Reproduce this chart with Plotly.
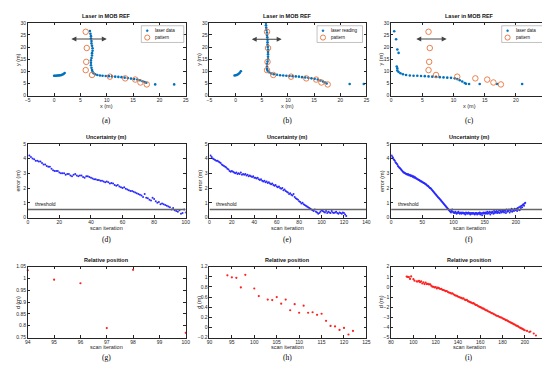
import plotly.graph_objects as go

# ---------------- data ----------------
pattern_x = [6.0, 6.2, 6.1, 6.0, 7.2, 10.6, 13.5, 15.4, 16.4, 17.6]
pattern_y = [26.3, 19.6, 13.9, 10.5, 8.5, 7.8, 7.1, 6.6, 5.4, 4.6]

a_x = [0.0, 0.2, 0.4, 0.6, 0.8, 1.0, 1.2, 1.4, 1.6, 1.8, 2.0,
       6.8, 6.9, 7.0, 7.0, 7.1, 7.1, 7.2, 7.3, 7.3, 7.2, 7.2, 7.1, 7.0, 7.0, 7.0, 7.1, 7.2,
       7.3, 7.5, 7.8, 8.2, 8.7, 9.2, 9.8, 10.4, 11.0, 11.6, 12.2, 12.8, 13.4, 14.0, 14.6,
       15.2, 15.8, 16.3, 16.8, 17.2, 17.5, 19.2, 22.8]
a_y = [8.2, 8.2, 8.2, 8.25, 8.3, 8.35, 8.4, 8.5, 8.7, 8.9, 9.3,
       26.6, 25.5, 24.5, 23.5, 22.5, 21.5, 20.5, 19.5, 18.5, 17.5, 16.5, 15.5, 14.5, 13.5, 12.5, 11.5, 10.5,
       9.8, 9.2, 8.8, 8.5, 8.3, 8.2, 8.1, 8.0, 7.9, 7.8, 7.7, 7.6, 7.4, 7.2, 7.0,
       6.8, 6.6, 6.3, 5.9, 5.6, 5.3, 4.6, 4.6]

b_x = [-0.2, 0.0, 0.2, 0.4, 0.6, 0.8, 1.0,
       5.8, 5.8, 5.85, 5.9, 6.0, 6.0, 6.05, 6.1, 6.1, 6.1, 6.15, 6.2, 6.2, 6.2, 6.2, 6.2, 6.1, 6.0, 6.0, 6.0,
       6.1, 6.4, 6.8, 7.3, 7.9, 8.5, 9.1, 9.7, 10.3, 10.9, 11.5, 12.1, 12.7, 13.3, 13.9, 14.5, 15.1,
       15.7, 16.2, 16.7, 17.1, 17.4, 21.8, 24.5]
b_y = [8.3, 8.4, 8.5, 8.7, 9.0, 9.4, 10.0,
       30.0, 29.0, 28.0, 27.0, 26.0, 25.0, 24.0, 23.0, 22.0, 21.0, 20.0, 19.0, 18.0, 17.0, 16.0, 15.0, 14.0, 13.0, 12.0, 11.0,
       10.3, 9.6, 9.1, 8.8, 8.6, 8.4, 8.3, 8.2, 8.1, 8.0, 7.9, 7.8, 7.6, 7.5, 7.3, 7.1, 6.9,
       6.6, 6.2, 5.8, 5.4, 5.0, 4.8, 4.8]

c_x = [0.5, 0.8, 1.0, 1.2, 0.9, 1.0,
       1.0, 1.2, 1.5, 1.9, 2.4, 3.0, 3.6, 4.2, 4.8, 5.4, 6.0, 6.6, 7.2, 7.8, 8.4, 9.0, 9.6,
       10.2, 10.6, 11.0, 11.4, 11.8, 12.0, 12.5, 14.2, 17.0, 21.0]
c_y = [26.5, 23.2, 19.0, 17.6, 12.0, 11.2,
       10.3, 9.7, 9.2, 8.8, 8.5, 8.3, 8.2, 8.15, 8.1, 8.0, 7.9, 7.8, 7.7, 7.6, 7.5, 7.4, 7.3,
       7.1, 6.8, 6.3, 5.8, 5.2, 4.9, 4.8, 4.8, 4.8, 4.8]

d_it = list(range(1, 101))
d_err = [4.20, 4.10, 4.00, 3.95, 3.85, 3.85, 3.80, 3.80, 3.70, 3.60,
         3.60, 3.50, 3.45, 3.45, 3.30, 3.20, 3.15, 3.15, 3.15, 3.05,
         3.00, 3.00, 3.00, 2.90, 2.95, 2.95, 2.85, 2.80, 2.90, 2.95,
         2.85, 2.80, 2.85, 2.85, 2.75, 2.70, 2.80, 2.80, 2.75, 2.70,
         2.65, 2.60, 2.60, 2.55, 2.55, 2.50, 2.50, 2.45, 2.40, 2.45,
         2.40, 2.30, 2.35, 2.30, 2.20, 2.15, 2.20, 2.10, 2.05, 2.00,
         2.05, 1.95, 1.90, 1.85, 1.80, 1.80, 1.75, 1.70, 1.65, 1.60,
         1.55, 1.50, 1.40, 1.60, 1.35, 1.30, 1.20, 1.15, 1.35, 1.25,
         1.10, 1.00, 1.05, 0.90, 0.95, 0.90, 0.85, 0.80, 0.75, 0.70,
         0.55, 0.65, 0.50, 0.45, 0.40, 0.50, 0.25, 0.30, 0.55, 0.35]

e_it = list(range(1, 123))
e_err = [4.20, 4.10, 4.00, 3.95, 3.90, 3.85, 3.85, 3.80, 3.75, 3.70,
         3.60, 3.55, 3.50, 3.45, 3.40, 3.30, 3.25, 3.15, 3.10, 3.15,
         3.10, 3.05, 3.00, 3.05, 2.95, 3.00, 2.95, 3.05, 2.90, 2.95,
         2.90, 2.95, 2.85, 2.90, 2.80, 2.85, 2.80, 2.75, 2.80, 2.70,
         2.70, 2.65, 2.70, 2.60, 2.55, 2.60, 2.50, 2.45, 2.50, 2.40,
         2.45, 2.35, 2.40, 2.30, 2.25, 2.30, 2.20, 2.15, 2.20, 2.10,
         2.05, 2.10, 2.00, 1.95, 2.00, 1.85, 1.90, 1.80, 1.75, 1.70,
         1.60, 1.65, 1.55, 1.50, 1.60, 1.40, 1.30, 1.25, 1.20, 1.10,
         1.05, 0.95, 1.00, 0.90, 0.85, 0.80, 0.75, 0.70, 0.65, 0.60,
         0.55, 0.50, 0.45, 0.55, 0.40, 0.35, 0.25, 0.30, 0.40, 0.50,
         0.45, 0.40, 0.35, 0.45, 0.30, 0.40, 0.35, 0.30, 0.45, 0.35,
         0.30, 0.35, 0.40, 0.30, 0.25, 0.35, 0.30, 0.25, 0.35, 0.30,
         0.20, 0.10]

f_it = list(range(1, 216))
f_err = [4.20, 4.10, 4.05, 3.95, 3.90, 3.85, 3.75, 3.70, 3.65, 3.60,
         3.50, 3.45, 3.40, 3.35, 3.30, 3.25, 3.20, 3.15, 3.10, 3.05,
         3.05, 3.00, 3.00, 2.95, 2.95, 2.90, 2.95, 2.90, 2.85, 2.90,
         2.85, 2.80, 2.85, 2.80, 2.75, 2.80, 2.70, 2.75, 2.70, 2.65,
         2.65, 2.60, 2.60, 2.55, 2.55, 2.50, 2.50, 2.45, 2.45, 2.40,
         2.40, 2.35, 2.35, 2.30, 2.25, 2.25, 2.20, 2.15, 2.15, 2.10,
         2.05, 2.00, 2.00, 1.95, 1.90, 1.85, 1.80, 1.75, 1.70, 1.65,
         1.60, 1.55, 1.50, 1.45, 1.40, 1.35, 1.30, 1.25, 1.20, 1.15,
         1.10, 1.05, 1.00, 0.95, 0.90, 0.85, 0.80, 0.75, 0.70, 0.65,
         0.60, 0.55, 0.50, 0.45, 0.40, 0.35, 0.45, 0.55, 0.40, 0.35,
         0.30, 0.35, 0.40, 0.30, 0.25, 0.35, 0.30, 0.40, 0.30, 0.25,
         0.30, 0.35, 0.25, 0.30, 0.35, 0.30, 0.25, 0.30, 0.20, 0.35,
         0.30, 0.25, 0.30, 0.35, 0.25, 0.30, 0.20, 0.30, 0.25, 0.30,
         0.25, 0.30, 0.25, 0.20, 0.30, 0.25, 0.30, 0.20, 0.25, 0.30,
         0.25, 0.35, 0.20, 0.30, 0.25, 0.15, 0.30, 0.35, 0.25, 0.30,
         0.35, 0.25, 0.30, 0.40, 0.25, 0.35, 0.30, 0.40, 0.20, 0.35,
         0.30, 0.40, 0.35, 0.25, 0.45, 0.30, 0.40, 0.35, 0.45, 0.30,
         0.40, 0.35, 0.50, 0.30, 0.45, 0.40, 0.35, 0.50, 0.40, 0.45,
         0.35, 0.50, 0.45, 0.30, 0.55, 0.40, 0.50, 0.45, 0.55, 0.35,
         0.50, 0.45, 0.60, 0.40, 0.55, 0.50, 0.45, 0.60, 0.55, 0.50,
         0.60, 0.45, 0.65, 0.55, 0.70, 0.50, 0.75, 0.65, 0.80, 0.70,
         0.85, 0.90, 0.80, 0.95, 1.00]

threshold = 0.55

g_it = [94, 95, 96, 97, 98, 100]
g_d = [1.035, 0.995, 0.98, 0.79, 1.037, 0.77]

h_it = [94, 95, 96, 97, 98, 100, 101, 103, 104, 105, 106, 107, 108, 109, 110,
        111, 112, 113, 114, 115, 116, 117, 118, 119, 120, 121, 122]
h_d = [1.03, 0.99, 0.98, 0.79, 1.04, 0.77, 0.62, 0.55, 0.54, 0.60, 0.47, 0.55, 0.34, 0.46, 0.29,
       0.43, 0.29, 0.30, 0.25, 0.27, 0.13, 0.03, 0.02, -0.05, -0.01, -0.14, -0.07]

i_it = h_it + list(range(123, 201)) + [202, 204, 205, 208, 210]
i_d = h_d + [-0.12, -0.20, -0.18, -0.28, -0.30, -0.35, -0.42, -0.40, -0.50, -0.55,
             -0.58, -0.65, -0.62, -0.72, -0.80, -0.85, -0.88, -0.95, -1.00, -1.05,
             -1.08, -1.15, -1.12, -1.25, -1.30, -1.28, -1.40, -1.45, -1.50, -1.55,
             -1.62, -1.60, -1.70, -1.78, -1.80, -1.88, -1.95, -2.00, -2.05, -2.12,
             -2.15, -2.22, -2.30, -2.32, -2.40, -2.45, -2.50, -2.58, -2.60, -2.68,
             -2.72, -2.80, -2.85, -2.88, -2.95, -3.00, -3.02, -3.10, -3.15, -3.20,
             -3.28, -3.30, -3.38, -3.45, -3.50, -3.55, -3.60, -3.68, -3.72, -3.80,
             -3.85, -3.90, -3.98, -4.05, -4.10, -4.15, -4.22, -4.28] + \
      [-4.35, -4.45, -4.40, -4.60, -4.80]

arrow_spans = [(3.0, 10.0, 23.3), (2.8, 8.8, 23.2), (3.8, 8.9, 23.3)]
panel_labels = ["(a)", "(b)", "(c)", "(d)", "(e)", "(f)", "(g)", "(h)", "(i)"]
legend_names = [["laser data", "pattern"], ["laser reading", "pattern"], ["laser data", "pattern"]]

# ---------------- layout geometry ----------------
W, H = 550, 365
cols = [(17, 177), (201, 360), (385, 543)]
rows = [(12, 86), (135, 210), (260, 332)]
legend_boxes = [(132, 175), (310, 356), (497, 539)]  # px, left/right

BLUE_L = "#0072bd"
ORANGE = "#e8743b"


def px2x(p):
    return p / W


def px2y(p):
    return 1 - p / H


fig = go.Figure()
layout = dict(width=W, height=H, margin=dict(l=0, r=0, t=0, b=0),
              plot_bgcolor="white", paper_bgcolor="white", showlegend=False)

FONT = "Liberation Sans"
TICKC = "#262626"
axis_ranges = [
    ([-5, 25], 5, [0, 30], 5),
    ([-5, 25], 5, [0, 30], 5),
    ([0, 25], 5, [0, 30], 5),
    ([0, 100], 20, [0, 5], 1),
    ([0, 140], 20, [0, 5], 1),
    ([0, 250], 50, [0, 5], 1),
    ([94, 100], 1, [0.75, 1.05], 0.05),
    ([90, 125], 5, [-0.2, 1.2], 0.2),
    ([80, 220], 20, [-5, 2], 1),
]
xlabel_y = [97, 221, 342]
panel_y = [111, 232, 352]

annotations = []
shapes = []
for k in range(9):
    r, c = divmod(k, 3)
    xa = "xaxis" if k == 0 else f"xaxis{k+1}"
    ya = "yaxis" if k == 0 else f"yaxis{k+1}"
    xr, xd, yr, yd = axis_ranges[k]
    common = dict(showgrid=False, zeroline=False, showline=True, linecolor=TICKC, linewidth=0.6,
                  mirror="ticks", ticks="inside", ticklen=2.5, tickwidth=0.6, tickcolor=TICKC,
                  tickfont=dict(size=5, color=TICKC, family=FONT))
    layout[xa] = dict(domain=[px2x(cols[c][0]), px2x(cols[c][1])], range=xr, dtick=xd, tick0=xr[0],
                      anchor=f"y{k+1}" if k else "y", **common)
    layout[ya] = dict(domain=[px2y(rows[r][1]), px2y(rows[r][0])], range=yr, dtick=yd, tick0=yr[0],
                      anchor=f"x{k+1}" if k else "x", **common)
    title = ["Laser in MOB REF", "Uncertainty (m)", "Relative position"][r]
    cx = px2x((cols[c][0] + cols[c][1]) / 2)
    annotations.append(dict(text=f"<b>{title}</b>", x=cx, y=px2y(rows[r][0] - 1.5), xref="paper", yref="paper",
                            xanchor="center", yanchor="bottom", showarrow=False,
                            font=dict(size=5.5, color="#111", family=FONT)))
    xlabel = ["x (m)", "scan iteration", "scan iteration"][r]
    annotations.append(dict(text=xlabel, x=cx, y=px2y(xlabel_y[r]), xref="paper", yref="paper",
                            xanchor="center", yanchor="middle", showarrow=False,
                            font=dict(size=5.5, color=TICKC, family=FONT)))
    ylabel = ["y (m)", "error (m)", "d (m)"][r]
    annotations.append(dict(text=ylabel, x=px2x(cols[c][0] - 10), y=px2y((rows[r][0] + rows[r][1]) / 2),
                            xref="paper", yref="paper", xanchor="center", yanchor="middle",
                            textangle=-90, showarrow=False,
                            font=dict(size=5.5, color=TICKC, family=FONT)))
    annotations.append(dict(text=panel_labels[k], x=cx, y=px2y(panel_y[r]), xref="paper", yref="paper",
                            xanchor="center", yanchor="middle", showarrow=False,
                            font=dict(size=7.5, color="#000", family="Liberation Serif")))

# ---- row 1 traces ----
laser_sets = [(a_x, a_y), (b_x, b_y), (c_x, c_y)]
for c in range(3):
    xs, ys = laser_sets[c]
    xref = "x" if c == 0 else f"x{c+1}"
    yref = "y" if c == 0 else f"y{c+1}"
    fig.add_trace(go.Scatter(x=xs, y=ys, mode="markers", name=legend_names[c][0], xaxis=xref, yaxis=yref,
                             marker=dict(size=2.6, color=BLUE_L)))
    fig.add_trace(go.Scatter(x=pattern_x, y=pattern_y, mode="markers", name="pattern", xaxis=xref, yaxis=yref,
                             marker=dict(size=5.5, symbol="circle-open", color=ORANGE, line=dict(width=0.9))))
    x0, x1, yy = arrow_spans[c]
    annotations.append(dict(x=x1, y=yy, ax=x0, ay=yy, xref=xref, yref=yref, axref=xref, ayref=yref,
                            text="", showarrow=True, arrowhead=2, arrowside="end+start",
                            arrowsize=0.9, arrowwidth=1.1, arrowcolor="#444"))
    # manual compact legend (MATLAB style)
    lx0, lx1 = legend_boxes[c]
    ly0, ly1 = 15, 32
    shapes.append(dict(type="rect", xref="paper", yref="paper",
                       x0=px2x(lx0), x1=px2x(lx1), y0=px2y(ly1), y1=px2y(ly0),
                       line=dict(color="#999", width=0.6), fillcolor="white", layer="above"))
    ix = lx0 + 6
    # laser icon (small dot)
    shapes.append(dict(type="circle", xref="paper", yref="paper",
                       x0=px2x(ix - 1), x1=px2x(ix + 1), y0=px2y(20 + 1), y1=px2y(20 - 1),
                       line=dict(color=BLUE_L, width=0.5), fillcolor=BLUE_L, layer="above"))
    # pattern icon (open circle)
    shapes.append(dict(type="circle", xref="paper", yref="paper",
                       x0=px2x(ix - 2.6), x1=px2x(ix + 2.6), y0=px2y(27 + 2.6), y1=px2y(27 - 2.6),
                       line=dict(color=ORANGE, width=0.9), fillcolor="rgba(0,0,0,0)", layer="above"))
    for j, yy_px in enumerate([20, 27]):
        annotations.append(dict(text=legend_names[c][j], x=px2x(ix + 6), y=px2y(yy_px), xref="paper", yref="paper",
                                xanchor="left", yanchor="middle", showarrow=False,
                                font=dict(size=4.5, color="#111", family=FONT)))

# ---- row 2 traces ----
unc = [(d_it, d_err), (e_it, e_err), (f_it, f_err)]
for c in range(3):
    k = 3 + c
    xs, ys = unc[c]
    fig.add_trace(go.Scatter(x=xs, y=ys, mode="markers", showlegend=False,
                             xaxis=f"x{k+1}", yaxis=f"y{k+1}",
                             marker=dict(size=2.0, color="#2a2aff")))
    xr = axis_ranges[k][0]
    fig.add_trace(go.Scatter(x=xr, y=[threshold, threshold], mode="lines", showlegend=False,
                             xaxis=f"x{k+1}", yaxis=f"y{k+1}",
                             line=dict(color="#666", width=1.6)))
    annotations.append(dict(text="threshold", x=xr[0] + (xr[1] - xr[0]) * 0.03, y=threshold + 0.05,
                            xref=f"x{k+1}", yref=f"y{k+1}", xanchor="left", yanchor="bottom",
                            showarrow=False, font=dict(size=5, color="#111", family=FONT)))

# ---- row 3 traces ----
rel = [(g_it, g_d), (h_it, h_d), (i_it, i_d)]
for c in range(3):
    k = 6 + c
    xs, ys = rel[c]
    fig.add_trace(go.Scatter(x=xs, y=ys, mode="markers", showlegend=False,
                             xaxis=f"x{k+1}", yaxis=f"y{k+1}", cliponaxis=False,
                             marker=dict(size=2.2, color="#ff2020")))

layout["annotations"] = annotations
layout["shapes"] = shapes
fig.update_layout(**layout)
fig.write_html("out.html")
